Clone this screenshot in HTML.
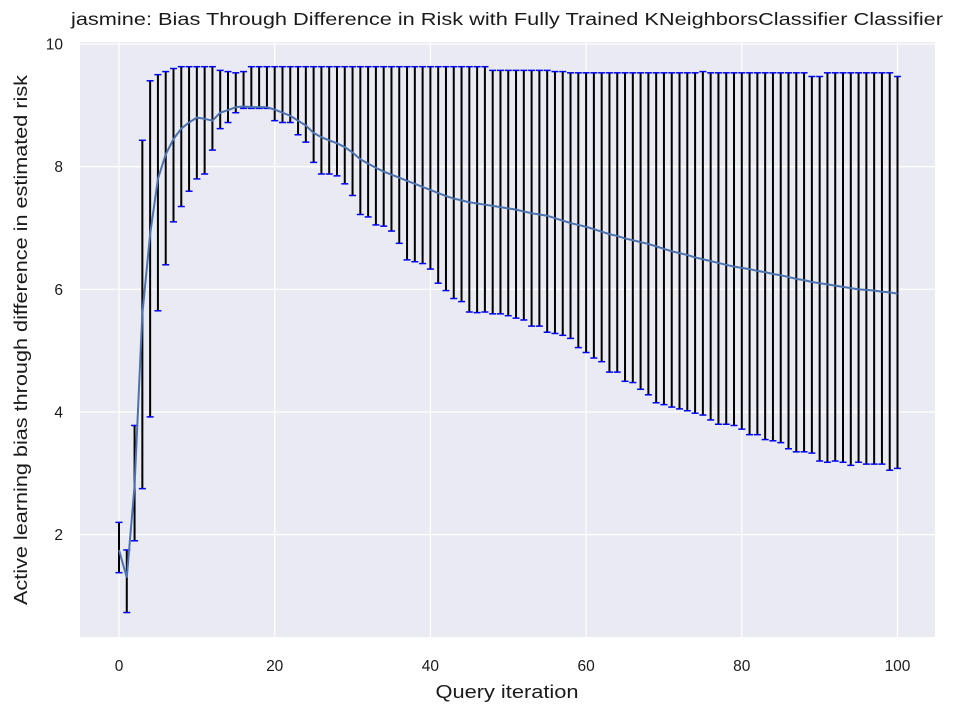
<!DOCTYPE html>
<html><head><meta charset="utf-8"><style>
body{margin:0;background:#fff;}
svg text{font-family:"Liberation Sans",Arial,sans-serif;fill:#1a1a1a;}
</style></head><body>
<svg id="chart" width="956" height="716" viewBox="0 0 956 716" xmlns="http://www.w3.org/2000/svg">
<text x="507" y="25" font-size="17.5" text-anchor="middle" textLength="872" lengthAdjust="spacingAndGlyphs">jasmine: Bias Through Difference in Risk with Fully Trained KNeighborsClassifier Classifier</text>
<rect x="80" y="42" width="855" height="595" fill="#eaeaf2"/>
<g id="grid"></g><g id="bars"></g><g id="line"></g><g id="ticks"></g>
<text x="507" y="698" font-size="18" text-anchor="middle" textLength="143" lengthAdjust="spacingAndGlyphs">Query iteration</text>
<text transform="translate(27,340) rotate(-90)" font-size="18" text-anchor="middle" textLength="530" lengthAdjust="spacingAndGlyphs">Active learning bias through difference in estimated risk</text>
</svg>
<script>
const upper=[2.2,1.75,3.78,8.43,9.4,9.5,9.55,9.6,9.63,9.63,9.63,9.63,9.63,9.57,9.55,9.53,9.55,9.63,9.63,9.63,9.63,9.63,9.63,9.63,9.63,9.63,9.63,9.63,9.63,9.63,9.63,9.63,9.63,9.63,9.63,9.63,9.63,9.63,9.63,9.63,9.63,9.63,9.63,9.63,9.63,9.63,9.63,9.63,9.57,9.57,9.57,9.57,9.57,9.57,9.57,9.57,9.55,9.55,9.53,9.53,9.53,9.53,9.53,9.53,9.53,9.53,9.53,9.53,9.53,9.53,9.53,9.53,9.53,9.53,9.53,9.55,9.53,9.53,9.53,9.53,9.53,9.53,9.53,9.53,9.53,9.53,9.53,9.53,9.53,9.47,9.47,9.53,9.53,9.53,9.53,9.53,9.53,9.53,9.53,9.53,9.47];
const lower=[1.38,0.73,1.9,2.75,3.92,5.65,6.4,7.1,7.35,7.6,7.8,7.88,8.27,8.62,8.72,8.88,8.95,8.95,8.95,8.95,8.75,8.72,8.72,8.52,8.4,8.07,7.88,7.88,7.85,7.72,7.53,7.22,7.18,7.05,7.03,6.95,6.75,6.48,6.45,6.42,6.33,6.1,5.98,5.85,5.8,5.63,5.62,5.63,5.6,5.6,5.57,5.53,5.5,5.4,5.4,5.3,5.28,5.25,5.2,5.05,4.97,4.88,4.82,4.65,4.65,4.5,4.48,4.37,4.28,4.15,4.12,4.08,4.05,4.02,3.98,3.95,3.87,3.8,3.8,3.78,3.72,3.63,3.63,3.55,3.53,3.5,3.4,3.35,3.35,3.33,3.2,3.18,3.2,3.18,3.13,3.18,3.15,3.15,3.15,3.05,3.08];
const meanVals=[1.75,1.3,2.8,5.6,6.9,7.8,8.2,8.45,8.62,8.72,8.8,8.78,8.75,8.88,8.92,8.97,8.98,8.97,8.97,8.97,8.93,8.88,8.83,8.75,8.67,8.55,8.48,8.43,8.38,8.32,8.23,8.12,8.05,7.98,7.92,7.87,7.82,7.77,7.72,7.67,7.62,7.57,7.52,7.48,7.45,7.42,7.4,7.38,7.36,7.34,7.32,7.3,7.27,7.24,7.22,7.2,7.16,7.12,7.08,7.05,7.02,6.98,6.94,6.9,6.87,6.83,6.8,6.77,6.74,6.7,6.66,6.62,6.59,6.56,6.52,6.49,6.46,6.43,6.4,6.37,6.35,6.33,6.3,6.28,6.25,6.23,6.2,6.17,6.15,6.12,6.1,6.08,6.06,6.04,6.02,6.0,5.99,5.98,5.96,5.95,5.93];
const xTicks=[0,20,40,60,80,100];
const yTicks=[2,4,6,8,10];
const NS="http://www.w3.org/2000/svg";
const X=v=>119+v*7.785;
const Y=v=>657.3-v*61.33;
function mk(tag,attrs,parent){const e=document.createElementNS(NS,tag);for(const k in attrs)e.setAttribute(k,attrs[k]);document.getElementById(parent).appendChild(e);return e;}
xTicks.forEach(t=>{
 const g=mk('line',{x1:X(t),x2:X(t),y1:42,y2:637,stroke:'#fff','stroke-width':1.2},'grid');
 
 
 const l=mk('text',{x:X(t),y:671,'font-size':15.5,'text-anchor':'middle'},'ticks');l.textContent=t;
 
 
});
yTicks.forEach(t=>{
 const g=mk('line',{x1:80,x2:935,y1:Y(t),y2:Y(t),stroke:'#fff','stroke-width':1.2},'grid');
 
 
 const l=mk('text',{x:63,y:Y(t)+5.5,'font-size':15.5,'text-anchor':'end'},'ticks');l.textContent=t;
 
 
});
meanVals.forEach((m,i)=>{
 const x=X(i);
 const b=mk('line',{x1:x,x2:x,y1:Y(upper[i]),y2:Y(lower[i]),stroke:'#000','stroke-width':2},'bars');
 
 
 [upper[i],lower[i]].forEach(v=>{
  const c=mk('line',{x1:x-3.5,x2:x+3.5,y1:Y(v),y2:Y(v),stroke:'#0000ff','stroke-width':1.5},'bars');
  
  
 });
});
const p=mk('polyline',{points:meanVals.map((m,i)=>X(i)+','+Y(m)).join(' '),fill:'none',stroke:'#4c72b0','stroke-width':2},'line');


</script>
</body></html>
